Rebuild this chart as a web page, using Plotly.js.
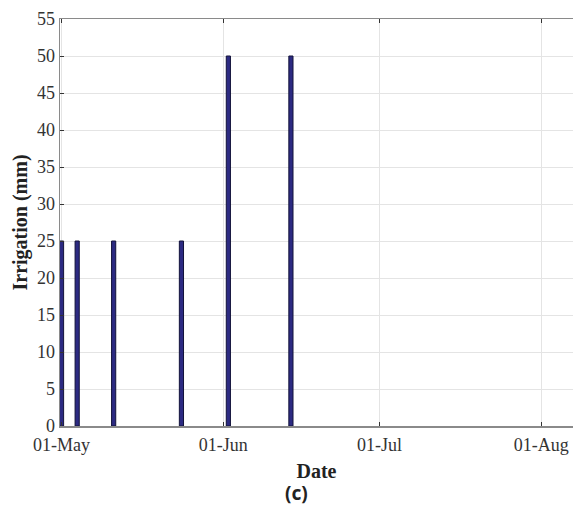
<!DOCTYPE html>
<html>
<head>
<meta charset="utf-8">
<script src="https://cdn.plot.ly/plotly-3.0.1.min.js"></script>
<style>
  html, body { margin: 0; padding: 0; background: #fff; }
  #chart { width: 573px; height: 508px; }
</style>
</head>
<body>
<div id="chart"></div>
<script>
// Data
const irrigationDates = ['2019-05-01', '2019-05-04', '2019-05-11', '2019-05-24', '2019-06-02', '2019-06-14'];
const irrigationMm = [25, 25, 25, 25, 50, 50];
const xTickDates = ['2019-05-01', '2019-06-01', '2019-07-01', '2019-08-01'];
const xTickLabels = ['01-May', '01-Jun', '01-Jul', '01-Aug'];
const yTickValues = [0, 5, 10, 15, 20, 25, 30, 35, 40, 45, 50, 55];
const xTitle = 'Date';
const yTitle = 'Irrigation (mm)';
const panelLabel = '(c)';

const DAY = 86400000;
const serif = 'Liberation Serif, Times New Roman, serif';

const trace = {
  type: 'bar',
  x: irrigationDates,
  y: irrigationMm,
  width: irrigationDates.map(() => 0.8 * DAY),
  marker: { color: '#2c2a82', line: { color: '#12123a', width: 1 } },
  hoverinfo: 'x+y'
};

const layout = {
  width: 573,
  height: 508,
  margin: { l: 60, r: 0, t: 19, b: 82 },
  paper_bgcolor: '#ffffff',
  plot_bgcolor: '#ffffff',
  showlegend: false,
  bargap: 0,
  xaxis: {
    type: 'date',
    range: ['2019-04-30 17:00', '2019-08-07 02:30'],
    tickmode: 'array',
    tickvals: xTickDates,
    ticktext: xTickLabels,
    ticks: 'inside',
    ticklen: 4,
    tickcolor: '#333333',
    ticklabelstandoff: 2,
    showgrid: true,
    gridcolor: '#e4e4e4',
    gridwidth: 1,
    showline: true,
    linecolor: '#8a8a8a',
    linewidth: 1.5,
    mirror: 'ticks',
    zeroline: false,
    tickfont: { family: serif, size: 18, color: '#333333' },
    title: { text: xTitle, font: { family: serif, size: 20, color: '#222222', weight: 'bold' }, standoff: 10 },
    fixedrange: true
  },
  yaxis: {
    range: [0, 55],
    tickmode: 'array',
    tickvals: yTickValues,
    ticks: 'inside',
    ticklen: 4,
    tickcolor: '#333333',
    showgrid: true,
    gridcolor: '#e4e4e4',
    gridwidth: 1,
    showline: true,
    linecolor: '#8a8a8a',
    linewidth: 1.5,
    zeroline: false,
    tickfont: { family: serif, size: 18, color: '#333333' },
    title: { text: yTitle, font: { family: serif, size: 20, color: '#222222', weight: 'bold' }, standoff: 4 },
    fixedrange: true
  },
  annotations: [{
    text: panelLabel,
    xref: 'paper', yref: 'paper',
    x: (296 - 60) / 513, y: -(493.5 - 427) / 407,
    xanchor: 'center', yanchor: 'middle',
    showarrow: false,
    font: { family: 'Noto Sans, Open Sans, sans-serif', size: 19, color: '#222222', weight: 'bold' }
  }]
};

Plotly.newPlot('chart', [trace], layout, { displayModeBar: false, staticPlot: true });
</script>
</body>
</html>
